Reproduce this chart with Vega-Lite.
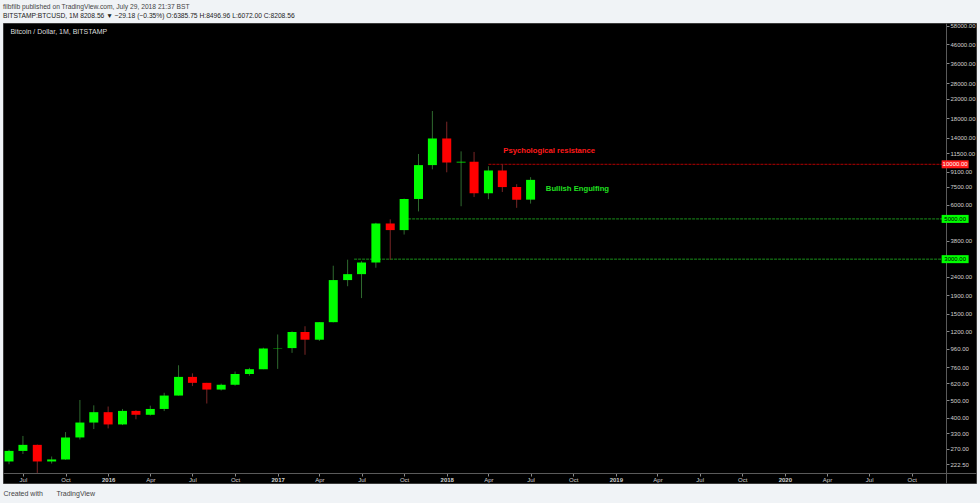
{
  "$schema": "https://vega.github.io/schema/vega-lite/v6.json",
  "width": 973,
  "height": 460,
  "autosize": "none",
  "padding": {"left": 3, "top": 23, "right": 4, "bottom": 20},
  "background": "#f0f3f6",
  "config": {
    "view": {"fill": "#000000", "stroke": "#3a3a3a"},
    "font": "Liberation Sans"
  },
  "title": {
    "text": "filbfilb published on TradingView.com, July 29, 2018 21:37 BST",
    "subtitle": "BITSTAMP:BTCUSD, 1M  8208.56 \u25bc \u221229.18 (\u22120.35%)  O:6385.75  H:8496.96  L:6072.00  C:8208.56",
    "anchor": "start",
    "frame": "group",
    "fontSize": 6.7,
    "fontWeight": "normal",
    "color": "#444444",
    "subtitleFontSize": 6.7,
    "subtitleColor": "#222222",
    "subtitleFontWeight": "normal",
    "subtitlePadding": 2,
    "offset": 3
  },
  "datasets": {
    "candles": [
      {"date": "2015-06-01", "open": 230, "high": 267, "low": 222, "close": 263},
      {"date": "2015-07-01", "open": 263, "high": 318, "low": 253, "close": 284},
      {"date": "2015-08-01", "open": 284, "high": 285, "low": 199, "close": 230},
      {"date": "2015-09-01", "open": 230, "high": 245, "low": 224, "close": 236},
      {"date": "2015-10-01", "open": 236, "high": 334, "low": 235, "close": 312},
      {"date": "2015-11-01", "open": 312, "high": 502, "low": 304, "close": 377},
      {"date": "2015-12-01", "open": 377, "high": 469, "low": 347, "close": 430},
      {"date": "2016-01-01", "open": 430, "high": 462, "low": 350, "close": 368},
      {"date": "2016-02-01", "open": 368, "high": 448, "low": 365, "close": 437},
      {"date": "2016-03-01", "open": 437, "high": 441, "low": 393, "close": 416},
      {"date": "2016-04-01", "open": 416, "high": 467, "low": 412, "close": 448},
      {"date": "2016-05-01", "open": 448, "high": 550, "low": 436, "close": 531},
      {"date": "2016-06-01", "open": 531, "high": 780, "low": 531, "close": 673},
      {"date": "2016-07-01", "open": 673, "high": 704, "low": 599, "close": 624},
      {"date": "2016-08-01", "open": 624, "high": 624, "low": 480, "close": 573},
      {"date": "2016-09-01", "open": 573, "high": 618, "low": 566, "close": 609},
      {"date": "2016-10-01", "open": 609, "high": 720, "low": 602, "close": 698},
      {"date": "2016-11-01", "open": 698, "high": 755, "low": 683, "close": 742},
      {"date": "2016-12-01", "open": 742, "high": 975, "low": 742, "close": 966},
      {"date": "2017-01-01", "open": 966, "high": 1153, "low": 745, "close": 970},
      {"date": "2017-02-01", "open": 970, "high": 1200, "low": 913, "close": 1190},
      {"date": "2017-03-01", "open": 1190, "high": 1280, "low": 891, "close": 1079},
      {"date": "2017-04-01", "open": 1079, "high": 1350, "low": 1062, "close": 1348},
      {"date": "2017-05-01", "open": 1348, "high": 2760, "low": 1345, "close": 2300},
      {"date": "2017-06-01", "open": 2300, "high": 2980, "low": 2128, "close": 2480},
      {"date": "2017-07-01", "open": 2480, "high": 2925, "low": 1830, "close": 2875},
      {"date": "2017-08-01", "open": 2875, "high": 4760, "low": 2690, "close": 4718},
      {"date": "2017-09-01", "open": 4718, "high": 4975, "low": 2972, "close": 4338},
      {"date": "2017-10-01", "open": 4338, "high": 6470, "low": 4100, "close": 6440},
      {"date": "2017-11-01", "open": 6440, "high": 11400, "low": 5500, "close": 9900},
      {"date": "2017-12-01", "open": 9900, "high": 19666, "low": 9380, "close": 13880},
      {"date": "2018-01-01", "open": 13880, "high": 17176, "low": 9035, "close": 10230},
      {"date": "2018-02-01", "open": 10230, "high": 11789, "low": 5873, "close": 10330},
      {"date": "2018-03-01", "open": 10330, "high": 11700, "low": 6600, "close": 6925},
      {"date": "2018-04-01", "open": 6925, "high": 9760, "low": 6425, "close": 9245},
      {"date": "2018-05-01", "open": 9245, "high": 9990, "low": 7036, "close": 7490},
      {"date": "2018-06-01", "open": 7490, "high": 7770, "low": 5755, "close": 6385.75},
      {"date": "2018-07-01", "open": 6385.75, "high": 8496.96, "low": 6072, "close": 8208.56}
    ],
    "levels": [
      {"level": 10000, "label": "10000.00", "kind": "resistance", "from": "2018-04-01", "to": "2020-12-12"},
      {"level": 5000, "label": "5000.00", "kind": "support", "from": "2017-10-01", "to": "2020-12-12"},
      {"level": 3000, "label": "3000.00", "kind": "support", "from": "2017-06-15", "to": "2020-12-12"}
    ]
  },
  "layer": [
    {
      "data": {"name": "levels"},
      "mark": {"type": "rule", "strokeWidth": 1, "strokeDash": [3, 1]},
      "encoding": {
        "x": {
          "field": "from", "type": "temporal",
          "scale": {
            "type": "utc", "nice": false,
            "domain": [
              {"year": 2015, "month": 5, "date": 29, "hours": 18, "minutes": 43, "utc": true},
              {"year": 2021, "month": 2, "date": 5, "hours": 20, "minutes": 10, "utc": true}
            ]
          },
          "axis": {
            "orient": "bottom",
            "offset": -10,
            "grid": false,
            "values": [
              {"year": 2015, "month": 7, "date": 1, "utc": true},
              {"year": 2015, "month": 10, "date": 1, "utc": true},
              {"year": 2016, "month": 1, "date": 1, "utc": true},
              {"year": 2016, "month": 4, "date": 1, "utc": true},
              {"year": 2016, "month": 7, "date": 1, "utc": true},
              {"year": 2016, "month": 10, "date": 1, "utc": true},
              {"year": 2017, "month": 1, "date": 1, "utc": true},
              {"year": 2017, "month": 4, "date": 1, "utc": true},
              {"year": 2017, "month": 7, "date": 1, "utc": true},
              {"year": 2017, "month": 10, "date": 1, "utc": true},
              {"year": 2018, "month": 1, "date": 1, "utc": true},
              {"year": 2018, "month": 4, "date": 1, "utc": true},
              {"year": 2018, "month": 7, "date": 1, "utc": true},
              {"year": 2018, "month": 10, "date": 1, "utc": true},
              {"year": 2019, "month": 1, "date": 1, "utc": true},
              {"year": 2019, "month": 4, "date": 1, "utc": true},
              {"year": 2019, "month": 7, "date": 1, "utc": true},
              {"year": 2019, "month": 10, "date": 1, "utc": true},
              {"year": 2020, "month": 1, "date": 1, "utc": true},
              {"year": 2020, "month": 4, "date": 1, "utc": true},
              {"year": 2020, "month": 7, "date": 1, "utc": true},
              {"year": 2020, "month": 10, "date": 1, "utc": true}
            ],
            "labelExpr": "utcmonth(datum.value) == 0 ? utcFormat(datum.value, '%Y') : utcFormat(datum.value, '%b')",
            "labelFontWeight": {"condition": {"test": "utcmonth(datum.value) == 0", "value": "bold"}, "value": "normal"},
            "labelColor": "#d0d0d0",
            "labelFontSize": 6,
            "labelPadding": 0,
            "labelFlush": false,
            "labelOverlap": false,
            "labelBound": false,
            "tickSize": 3,
            "tickColor": "#888888",
            "domainColor": "#5a5a5a",
            "title": "Created with\u00a0\u00a0\u00a0\u00a0\u00a0\u00a0\u00a0TradingView",
            "titleAnchor": "start",
            "titleAlign": "left",
            "titleFontSize": 7,
            "titleFontWeight": "normal",
            "titleColor": "#444444",
            "titlePadding": 7
          }
        },
        "x2": {"field": "to"},
        "y": {
          "field": "level", "type": "quantitative",
          "scale": {"type": "log", "domain": [175, 60120], "nice": false, "zero": false},
          "axis": {
            "orient": "right",
            "offset": -30,
            "grid": false,
            "values": [222.5, 270, 330, 400, 500, 620, 760, 960, 1200, 1500, 1900, 2400, 3800, 6000, 7500, 9100, 11500, 14000, 18000, 23000, 28000, 36000, 46000, 58000],
            "format": ".2f",
            "labelColor": "#d0d0d0",
            "labelFontSize": 6,
            "labelPadding": 1,
            "labelFlush": false,
            "labelOverlap": false,
            "labelBound": false,
            "tickSize": 3,
            "tickColor": "#888888",
            "domainColor": "#5a5a5a",
            "title": null
          }
        },
        "color": {"condition": {"test": "datum.kind == 'resistance'", "value": "#b00000"}, "value": "#1a8f1a"}
      }
    },
    {
      "data": {"name": "candles"},
      "mark": {"type": "rule", "strokeWidth": 1, "clip": true},
      "encoding": {
        "x": {"field": "date", "type": "temporal"},
        "y": {"field": "low", "type": "quantitative"},
        "y2": {"field": "high"},
        "color": {"condition": {"test": "datum.close >= datum.open", "value": "#2f6a2f"}, "value": "#7a2626"}
      }
    },
    {
      "data": {"name": "candles"},
      "mark": {"type": "bar", "size": 9, "clip": true},
      "encoding": {
        "x": {"field": "date", "type": "temporal"},
        "y": {"field": "open", "type": "quantitative"},
        "y2": {"field": "close"},
        "color": {"condition": {"test": "datum.close >= datum.open", "value": "#00ff00"}, "value": "#ff0000"}
      }
    },
    {
      "data": {"values": [{"date": "2018-05-03", "price": 11885, "text": "Psychological resistance"}]},
      "mark": {"type": "text", "align": "left", "baseline": "middle", "fontSize": 7.7, "fontWeight": "bold", "color": "#ff1a1a"},
      "encoding": {
        "x": {"field": "date", "type": "temporal"},
        "y": {"field": "price", "type": "quantitative"},
        "text": {"field": "text"}
      }
    },
    {
      "data": {"values": [{"date": "2018-08-03", "price": 7308, "text": "Bullish Engulfing"}]},
      "mark": {"type": "text", "align": "left", "baseline": "middle", "fontSize": 7.7, "fontWeight": "bold", "color": "#20e020"},
      "encoding": {
        "x": {"field": "date", "type": "temporal"},
        "y": {"field": "price", "type": "quantitative"},
        "text": {"field": "text"}
      }
    },
    {
      "data": {"values": [{"date": "2015-06-04T00:00:00Z", "price": 53430, "text": "Bitcoin / Dollar, 1M, BITSTAMP"}]},
      "mark": {"type": "text", "align": "left", "baseline": "middle", "fontSize": 7, "color": "#dddddd"},
      "encoding": {
        "x": {"field": "date", "type": "temporal"},
        "y": {"field": "price", "type": "quantitative"},
        "text": {"field": "text"}
      }
    },
    {
      "data": {"name": "levels"},
      "mark": {"type": "point", "shape": "M-1,-0.2963H1V0.2963H-1Z", "size": 729, "filled": true, "opacity": 1, "strokeWidth": 0},
      "encoding": {
        "x": {"datum": {"year": 2021, "month": 1, "date": 2, "hours": 14, "utc": true}, "type": "temporal"},
        "y": {"field": "level", "type": "quantitative"},
        "color": {"condition": {"test": "datum.kind == 'resistance'", "value": "#ff1a1a"}, "value": "#00ff00"}
      }
    },
    {
      "data": {"name": "levels"},
      "mark": {"type": "text", "align": "center", "baseline": "middle", "fontSize": 6},
      "encoding": {
        "x": {"datum": {"year": 2021, "month": 1, "date": 2, "hours": 14, "utc": true}, "type": "temporal"},
        "y": {"field": "level", "type": "quantitative"},
        "text": {"field": "label"},
        "color": {"condition": {"test": "datum.kind == 'resistance'", "value": "#ffffff"}, "value": "#000000"}
      }
    }
  ]
}
